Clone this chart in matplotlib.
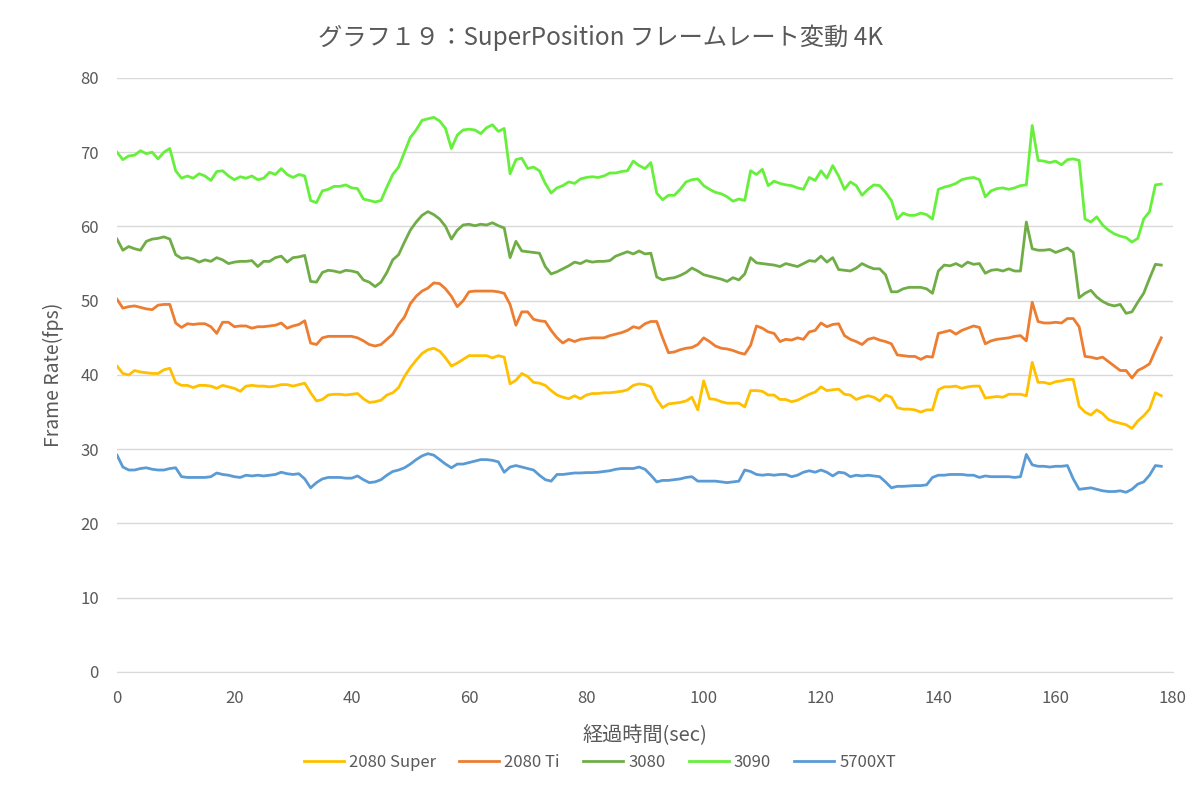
import numpy as np
import matplotlib
matplotlib.use("Agg")
import matplotlib.pyplot as plt

plt.rcParams["font.family"] = ["Noto Sans CJK JP", "DejaVu Sans"]

# elapsed time, one sample per second
seconds = list(range(179))

fps_2080s = [
    41.2, 40.2, 40.0, 40.6, 40.4, 40.3, 40.2, 40.2, 40.7, 40.9,
    39.0, 38.6, 38.6, 38.3, 38.6, 38.6, 38.5, 38.2, 38.6, 38.4,
    38.2, 37.8, 38.5, 38.6, 38.5, 38.5, 38.4, 38.5, 38.7, 38.7,
    38.5, 38.7, 38.9, 37.6, 36.5, 36.7, 37.3, 37.4, 37.4, 37.3,
    37.4, 37.5, 36.8, 36.3, 36.4, 36.6, 37.3, 37.6, 38.3, 39.8,
    41.0, 42.0, 42.9, 43.4, 43.6, 43.2, 42.3, 41.2, 41.6, 42.1,
    42.6, 42.6, 42.6, 42.6, 42.3, 42.6, 42.4, 38.8, 39.3, 40.2,
    39.8, 39.0, 38.9, 38.6, 37.9, 37.3, 37.0, 36.8, 37.2, 36.8,
    37.3, 37.5, 37.5, 37.6, 37.6, 37.7, 37.8, 38.0, 38.6, 38.8,
    38.7, 38.4, 36.7, 35.6, 36.1, 36.2, 36.3, 36.5, 37.0, 35.3,
    39.2, 36.8, 36.7, 36.4, 36.2, 36.2, 36.2, 35.7, 37.9, 37.9,
    37.8, 37.3, 37.3, 36.7, 36.7, 36.4, 36.6, 37.0, 37.4, 37.7,
    38.4, 37.9, 38.0, 38.1, 37.4, 37.3, 36.7, 37.0, 37.2, 37.0,
    36.5, 37.3, 37.0, 35.6, 35.4, 35.4, 35.3, 35.0, 35.3, 35.3,
    38.0, 38.4, 38.4, 38.5, 38.2, 38.4, 38.5, 38.5, 36.9, 37.0,
    37.1, 37.0, 37.4, 37.4, 37.4, 37.2, 41.7, 39.0, 39.0, 38.8,
    39.1, 39.2, 39.4, 39.4, 35.8, 35.0, 34.6, 35.3, 34.8, 34.0,
    33.7, 33.5, 33.3, 32.8, 33.8, 34.5, 35.4, 37.6, 37.2,
]

fps_2080ti = [
    50.2, 49.0, 49.2, 49.3, 49.1, 48.9, 48.8, 49.4, 49.5, 49.5,
    47.0, 46.4, 46.9, 46.8, 46.9, 46.9, 46.5, 45.6, 47.1, 47.1,
    46.5, 46.6, 46.6, 46.3, 46.5, 46.5, 46.6, 46.7, 47.0, 46.3,
    46.6, 46.8, 47.3, 44.3, 44.1, 45.0, 45.2, 45.2, 45.2, 45.2,
    45.2, 45.0, 44.6, 44.1, 43.9, 44.1, 44.8, 45.5, 46.8, 47.8,
    49.6, 50.6, 51.3, 51.7, 52.4, 52.3, 51.6, 50.6, 49.2, 50.0,
    51.2, 51.3, 51.3, 51.3, 51.3, 51.2, 51.0, 49.5, 46.7, 48.5,
    48.5, 47.5, 47.3, 47.2, 46.0, 45.0, 44.3, 44.8, 44.5, 44.8,
    44.9, 45.0, 45.0, 45.0, 45.3, 45.5, 45.7, 46.0, 46.5, 46.3,
    46.9, 47.2, 47.2, 45.0, 43.0, 43.1, 43.4, 43.6, 43.7, 44.1,
    45.0, 44.5, 43.9, 43.6, 43.5, 43.3, 43.0, 42.8, 44.0, 46.6,
    46.3, 45.8, 45.6, 44.5, 44.8, 44.7, 45.0, 44.8, 45.8, 46.0,
    47.0, 46.5, 46.8, 46.9, 45.3, 44.8, 44.5, 44.1, 44.8, 45.0,
    44.7, 44.5, 44.2, 42.7, 42.6, 42.5, 42.5, 42.1, 42.5, 42.4,
    45.6, 45.8, 46.0, 45.5, 46.0, 46.3, 46.6, 46.4, 44.2, 44.6,
    44.8, 44.9, 45.0, 45.2, 45.3, 44.6, 49.8, 47.2, 47.0, 47.0,
    47.1, 47.0, 47.6, 47.6, 46.5, 42.5, 42.4, 42.2, 42.4, 41.8,
    41.2, 40.6, 40.6, 39.6, 40.6, 41.0, 41.5, 43.3, 45.0,
]

fps_3080 = [
    58.3, 56.8, 57.3, 57.0, 56.8, 58.0, 58.3, 58.4, 58.6, 58.3,
    56.2, 55.7, 55.8, 55.6, 55.2, 55.5, 55.3, 55.8, 55.5, 55.0,
    55.2, 55.3, 55.3, 55.4, 54.6, 55.3, 55.3, 55.8, 56.0, 55.2,
    55.8, 55.9, 56.1, 52.6, 52.5, 53.8, 54.1, 54.0, 53.8, 54.1,
    54.0, 53.8, 52.8, 52.5, 51.9, 52.5, 53.8, 55.5, 56.2, 57.9,
    59.5, 60.6, 61.5, 62.0, 61.6, 61.0, 60.0, 58.3, 59.5, 60.2,
    60.3, 60.1, 60.3, 60.2, 60.5, 60.1, 59.8, 55.8, 58.0, 56.7,
    56.6, 56.5, 56.4, 54.6, 53.6, 53.9, 54.3, 54.7, 55.2, 55.0,
    55.4, 55.2, 55.3, 55.3, 55.4, 56.0, 56.3, 56.6, 56.3, 56.7,
    56.3, 56.4, 53.2, 52.8, 53.0, 53.1, 53.4, 53.8, 54.4, 54.0,
    53.5, 53.3, 53.1, 52.9, 52.6, 53.1, 52.8, 53.6, 55.8, 55.1,
    55.0, 54.9, 54.8, 54.6, 55.0, 54.8, 54.6, 55.0, 55.4, 55.3,
    56.0, 55.2, 55.8, 54.2, 54.1, 54.0, 54.4, 55.0, 54.6, 54.3,
    54.3, 53.5, 51.2, 51.2, 51.6, 51.8, 51.8, 51.8, 51.6, 51.0,
    54.0, 54.8, 54.7, 55.0, 54.6, 55.2, 54.9, 55.0, 53.7, 54.1,
    54.2, 54.0, 54.3, 54.0, 54.0, 60.6, 57.0, 56.8, 56.8, 56.9,
    56.5, 56.8, 57.1, 56.5, 50.4, 51.0, 51.4, 50.5, 49.9, 49.5,
    49.3, 49.5, 48.3, 48.5, 49.8, 51.0, 53.0, 54.9, 54.8,
]

fps_3090 = [
    70.0, 69.0, 69.5, 69.6, 70.2, 69.8, 70.0, 69.1, 70.0, 70.5,
    67.5, 66.5, 66.8, 66.5, 67.1, 66.8, 66.2, 67.4, 67.5, 66.8,
    66.3, 66.7, 66.5, 66.8, 66.3, 66.5, 67.3, 67.0, 67.8, 67.0,
    66.6, 67.0, 66.8, 63.5, 63.2, 64.8, 65.0, 65.4, 65.4, 65.6,
    65.2, 65.1, 63.7, 63.5, 63.3, 63.5, 65.3, 67.0, 68.0, 70.0,
    72.0, 73.0, 74.3, 74.5, 74.7, 74.2, 73.2, 70.5, 72.3, 73.0,
    73.1, 73.0, 72.5, 73.3, 73.7, 72.8, 73.2, 67.1, 69.0, 69.2,
    67.8, 68.0, 67.5, 65.8, 64.5, 65.2, 65.5, 66.0, 65.8, 66.4,
    66.6, 66.7, 66.6, 66.8, 67.2, 67.2, 67.4, 67.5, 68.8, 68.2,
    67.8, 68.6, 64.5, 63.6, 64.2, 64.2, 65.0, 66.0, 66.3, 66.4,
    65.5, 65.0, 64.6, 64.4, 64.0, 63.4, 63.7, 63.5, 67.5, 67.0,
    67.7, 65.5, 66.1, 65.8, 65.6, 65.5, 65.2, 65.0, 66.6, 66.2,
    67.5, 66.5, 68.2, 66.8, 65.0, 66.0, 65.5, 64.2, 65.0, 65.6,
    65.5, 64.6, 63.5, 61.0, 61.8, 61.5, 61.5, 61.8, 61.6, 61.0,
    65.0, 65.3, 65.5, 65.8, 66.3, 66.5, 66.6, 66.3, 64.0, 64.8,
    65.1, 65.2, 65.0, 65.2, 65.5, 65.6, 73.6, 68.9, 68.8, 68.6,
    68.8, 68.3, 69.0, 69.1, 68.9, 61.0, 60.6, 61.3, 60.2, 59.5,
    59.0, 58.7, 58.5, 57.9, 58.4, 61.0, 62.0, 65.6, 65.7,
]

fps_5700xt = [
    29.2, 27.6, 27.2, 27.2, 27.4, 27.5, 27.3, 27.2, 27.2, 27.4,
    27.5, 26.3, 26.2, 26.2, 26.2, 26.2, 26.3, 26.8, 26.6, 26.5,
    26.3, 26.2, 26.5, 26.4, 26.5, 26.4, 26.5, 26.6, 26.9, 26.7,
    26.6, 26.7, 26.0, 24.8, 25.5, 26.0, 26.2, 26.2, 26.2, 26.1,
    26.1, 26.4, 25.9, 25.5, 25.6, 25.9, 26.5, 27.0, 27.2, 27.5,
    28.0, 28.6, 29.1, 29.4, 29.2, 28.6, 28.0, 27.5, 28.0, 28.0,
    28.2, 28.4, 28.6, 28.6, 28.5, 28.3, 26.9, 27.6, 27.8, 27.6,
    27.4, 27.2, 26.5, 25.9, 25.7, 26.6, 26.6, 26.7, 26.8, 26.8,
    26.85, 26.85, 26.9, 27.0, 27.1, 27.3, 27.4, 27.4, 27.4, 27.6,
    27.3, 26.5, 25.6, 25.8, 25.8, 25.9, 26.0, 26.2, 26.3, 25.7,
    25.7, 25.7, 25.7, 25.6, 25.5, 25.6, 25.7, 27.2, 27.0, 26.6,
    26.5, 26.6, 26.5, 26.6, 26.6, 26.3, 26.5, 26.9, 27.1, 26.9,
    27.2, 26.9, 26.4, 26.9, 26.8, 26.3, 26.5, 26.4, 26.5, 26.4,
    26.3, 25.6, 24.8, 25.0, 25.0, 25.05, 25.1, 25.1, 25.2, 26.2,
    26.5, 26.5, 26.6, 26.6, 26.6, 26.5, 26.5, 26.2, 26.4, 26.3,
    26.3, 26.3, 26.3, 26.2, 26.3, 29.3, 27.9, 27.7, 27.7, 27.6,
    27.7, 27.7, 27.8, 26.0, 24.6, 24.7, 24.8, 24.6, 24.4, 24.3,
    24.3, 24.4, 24.2, 24.6, 25.3, 25.6, 26.5, 27.8, 27.7,
]

labels = ["2080 Super", "2080 Ti", "3080", "3090", "5700XT"]
colors = ["#FFC000", "#ED7D31", "#70AD47", "#66F03C", "#5B9BD5"]
series = [fps_2080s, fps_2080ti, fps_3080, fps_3090, fps_5700xt]

text_gray = "#595959"

fig = plt.figure(figsize=(12, 7.94), dpi=100)
ax = fig.add_axes([0.0975, 0.1537, 0.88, 0.7481])

for vals, name, col in zip(series, labels, colors):
    ax.plot(seconds, vals, color=col, lw=2.0, label=name, solid_joinstyle="round")

ax.set_xlim(0, 180)
ax.set_ylim(0, 80)
ax.set_xticks(range(0, 181, 20))
ax.set_yticks(range(0, 81, 10))
ax.grid(axis="y", color="#D9D9D9", lw=1)
ax.set_axisbelow(True)
for side in ["left", "right", "top"]:
    ax.spines[side].set_visible(False)
ax.spines["bottom"].set_color("#D9D9D9")
ax.tick_params(axis="both", length=0, labelsize=12, colors=text_gray, pad=13)

fig.text(0.5, 1 - 38 / 794, "グラフ１９：SuperPosition フレームレート変動 4K",
         fontsize=17.5, color=text_gray, ha="center", va="center")
ax.set_xlabel("経過時間(sec)", fontsize=14.5, color=text_gray, labelpad=12)
ax.set_ylabel("Frame Rate(fps)", fontsize=14, color=text_gray, labelpad=12)

fig.legend(loc="center", bbox_to_anchor=(0.5, 0.04), ncol=5, frameon=False,
           fontsize=12, handlelength=2.4, handletextpad=0.3, columnspacing=1.4,
           labelcolor=text_gray)

plt.savefig("out.png", dpi=100)
